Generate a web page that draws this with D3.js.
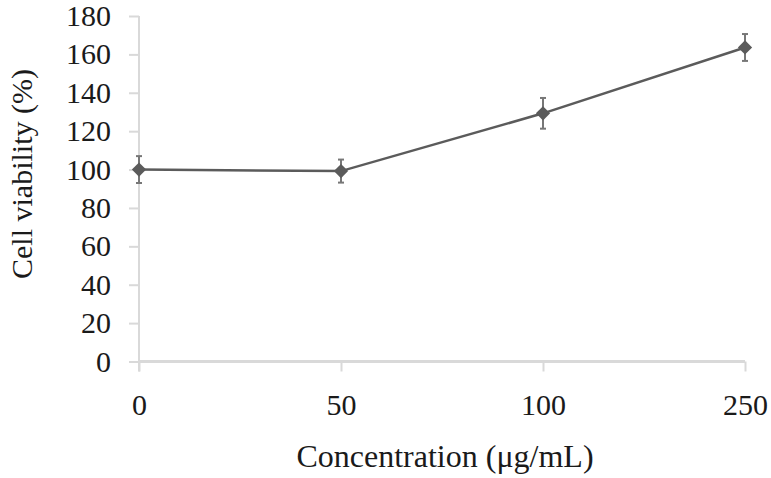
<!DOCTYPE html>
<html>
<head>
<meta charset="utf-8">
<script src="https://cdn.jsdelivr.net/npm/d3@7"></script>
<style>
  html, body { margin: 0; padding: 0; background: #fff; }
  svg { display: block; }
</style>
</head>
<body>
<svg id="chart" width="771" height="478"></svg>
<script>
const categories = ["0", "50", "100", "250"];
const viability = [100, 99.2, 129.3, 163.6];
const errors = [7, 6, 8, 7];
const yTicks = [0, 20, 40, 60, 80, 100, 120, 140, 160, 180];
const xTitle = "Concentration (μg/mL)";
const yTitle = "Cell viability (%)";

const svg = d3.select("#chart");
const font = "'Liberation Serif', 'Times New Roman', serif";
const axisColor = "#d9d9d9";
const markColor = "#5b5b5b";

const x = d3.scalePoint().domain(categories).range([139, 745]);
const y = d3.scaleLinear().domain([0, 180]).range([361.5, 16]);

// Y axis
const yAxis = svg.append("g").attr("transform", "translate(139,0)")
  .call(d3.axisLeft(y).tickValues(yTicks).tickSize(10).tickPadding(18).tickFormat(d3.format("d")));
yAxis.select(".domain").attr("stroke", axisColor).attr("stroke-width", 2).attr("d", `M0,${y(180)}V${y(0) + 10}`);
yAxis.selectAll(".tick line").attr("stroke", axisColor).attr("stroke-width", 2);
yAxis.selectAll(".tick text").attr("font-family", font).attr("font-size", 30).attr("fill", "#1a1a1a");

// X axis
const xAxis = svg.append("g").attr("transform", `translate(0,${y(0)})`)
  .call(d3.axisBottom(x).tickSize(10).tickPadding(22));
xAxis.select(".domain").attr("stroke", axisColor).attr("stroke-width", 3).attr("d", `M139,0H745`);
xAxis.selectAll(".tick line").attr("stroke", axisColor).attr("stroke-width", 2);
xAxis.selectAll(".tick text").attr("font-family", font).attr("font-size", 30).attr("fill", "#1a1a1a");

// Titles
svg.append("text").attr("x", 445).attr("y", 467).attr("text-anchor", "middle")
  .attr("font-family", font).attr("font-size", 32).attr("fill", "#1a1a1a").text(xTitle);
svg.append("text").attr("transform", "translate(32,174) rotate(-90)").attr("text-anchor", "middle")
  .attr("font-family", font).attr("font-size", 30).attr("fill", "#1a1a1a").text(yTitle);

const data = categories.map((c, i) => ({ c, v: viability[i], e: errors[i] }));

// Line
svg.append("path").datum(data)
  .attr("fill", "none").attr("stroke", markColor).attr("stroke-width", 2.5)
  .attr("d", d3.line().x(d => x(d.c)).y(d => y(d.v)));

// Error bars
const eb = svg.append("g").attr("stroke", "#777").attr("stroke-width", 2);
data.forEach(d => {
  const cx = x(d.c);
  eb.append("line").attr("x1", cx).attr("x2", cx).attr("y1", y(d.v + d.e)).attr("y2", y(d.v - d.e));
  eb.append("line").attr("x1", cx - 3).attr("x2", cx + 3).attr("y1", y(d.v + d.e)).attr("y2", y(d.v + d.e));
  eb.append("line").attr("x1", cx - 3).attr("x2", cx + 3).attr("y1", y(d.v - d.e)).attr("y2", y(d.v - d.e));
});

// Markers (diamonds)
svg.append("g").selectAll("path").data(data).join("path")
  .attr("transform", d => `translate(${x(d.c)},${y(d.v)})`)
  .attr("d", d3.symbol().type(d3.symbolDiamond2).size(130))
  .attr("fill", markColor);
</script>
</body>
</html>
